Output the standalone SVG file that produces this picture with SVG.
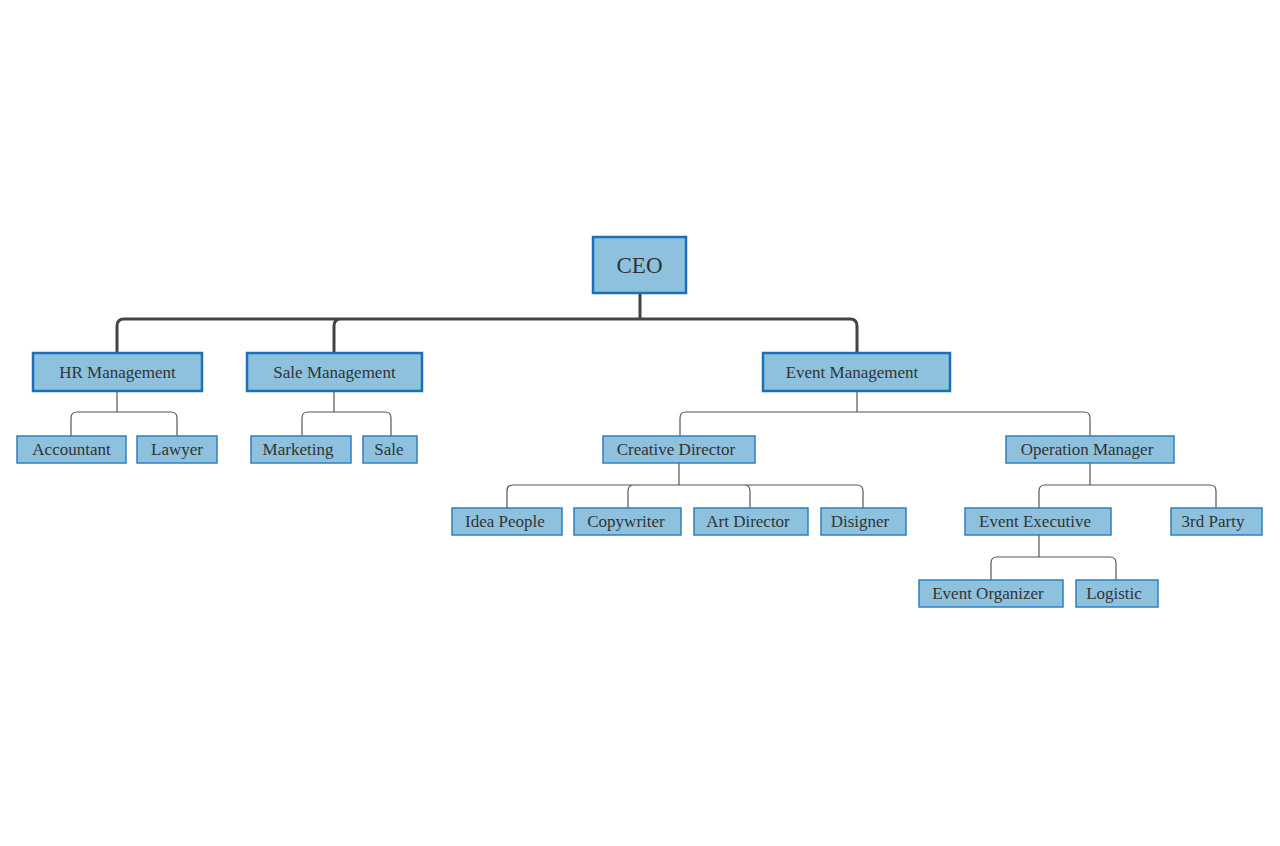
<svg xmlns="http://www.w3.org/2000/svg" width="1280" height="846" viewBox="0 0 1280 846">
<style>
.n{fill:#8dc1de;stroke:#2f7fbf;stroke-width:1.5}
.m{fill:#8dc1de;stroke:#1f6fb5;stroke-width:2.5}
text{font-family:"Liberation Serif",serif;font-size:17px;fill:#333;text-anchor:middle;dominant-baseline:central}
.t{fill:none;stroke:#444;stroke-width:3}
.c{fill:none;stroke:#555;stroke-width:1.2}
</style>
<rect width="1280" height="846" fill="#fff"/>
<g id="connectors">
<path class="t" d="M640 293V319M117 353V326Q117 319 124 319H850Q857 319 857 326V353M334 353V326Q334 319 341 319"/>
<path class="c" d="M117 391V412M71 436V418Q71 412 77 412H171Q177 412 177 418V436"/>
<path class="c" d="M334 391V412M302 436V418Q302 412 308 412H385Q391 412 391 418V436"/>
<path class="c" d="M857 391V412M680 436V418Q680 412 686 412H1084Q1090 412 1090 418V436"/>
<path class="c" d="M679 463V485M507 508V491Q507 485 513 485H857Q863 485 863 491V508M628 508V491Q628 485 634 485M750 508V491Q750 485 744 485"/>
<path class="c" d="M1090 463V485M1039 508V491Q1039 485 1045 485H1210Q1216 485 1216 491V508"/>
<path class="c" d="M1039 535V557M991 580V563Q991 557 997 557H1110Q1116 557 1116 563V580"/>
</g>
<g id="ceo"><rect class="m" x="593" y="237" width="93" height="56"/><text x="639.5" y="265" style="font-size:23px">CEO</text></g>
<g id="hr"><rect class="m" x="33" y="353" width="169" height="38"/><text x="117.5" y="372">HR Management</text></g>
<g id="salem"><rect class="m" x="247" y="353" width="175" height="38"/><text x="334.5" y="372">Sale Management</text></g>
<g id="eventm"><rect class="m" x="763" y="353" width="187" height="38"/><text x="852" y="372">Event Management</text></g>
<g id="accountant"><rect class="n" x="17" y="436" width="109" height="27"/><text x="71.5" y="449.5">Accountant</text></g>
<g id="lawyer"><rect class="n" x="137" y="436" width="80" height="27"/><text x="177" y="449.5">Lawyer</text></g>
<g id="marketing"><rect class="n" x="251" y="436" width="100" height="27"/><text x="298" y="449.5">Marketing</text></g>
<g id="sale"><rect class="n" x="363" y="436" width="54" height="27"/><text x="389" y="449.5">Sale</text></g>
<g id="creative"><rect class="n" x="603" y="436" width="152" height="27"/><text x="676" y="449.5">Creative Director</text></g>
<g id="operation"><rect class="n" x="1006" y="436" width="168" height="27"/><text x="1087" y="449.5">Operation Manager</text></g>
<g id="idea"><rect class="n" x="452" y="508" width="110" height="27"/><text x="505" y="521.5">Idea People</text></g>
<g id="copy"><rect class="n" x="574" y="508" width="107" height="27"/><text x="626" y="521.5">Copywriter</text></g>
<g id="art"><rect class="n" x="694" y="508" width="114" height="27"/><text x="748" y="521.5">Art Director</text></g>
<g id="disigner"><rect class="n" x="821" y="508" width="85" height="27"/><text x="860" y="521.5">Disigner</text></g>
<g id="exec"><rect class="n" x="965" y="508" width="146" height="27"/><text x="1035" y="521.5">Event Executive</text></g>
<g id="third"><rect class="n" x="1171" y="508" width="91" height="27"/><text x="1213" y="521.5">3rd Party</text></g>
<g id="organizer"><rect class="n" x="919" y="580" width="144" height="27"/><text x="988" y="593.5">Event Organizer</text></g>
<g id="logistic"><rect class="n" x="1076" y="580" width="82" height="27"/><text x="1114" y="593.5">Logistic</text></g>
</svg>
